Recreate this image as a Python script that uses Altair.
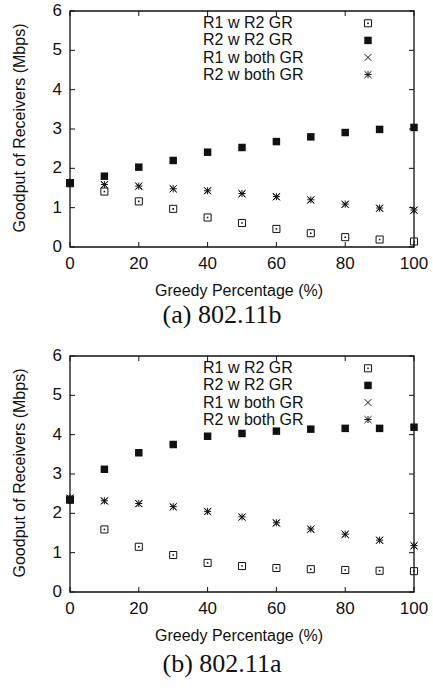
import altair as alt
import pandas as pd

# Greedy percentage (x axis)
greedy = [0, 10, 20, 30, 40, 50, 60, 70, 80, 90, 100]

series_names = ["R1 w R2 GR", "R2 w R2 GR", "R1 w both GR", "R2 w both GR"]

# (a) 802.11b goodput (Mbps)
a_r1_r2gr = [1.62, 1.41, 1.16, 0.97, 0.75, 0.61, 0.46, 0.35, 0.25, 0.19, 0.14]
a_r2_r2gr = [1.63, 1.80, 2.03, 2.20, 2.41, 2.53, 2.68, 2.80, 2.91, 2.99, 3.04]
a_r1_both = [1.62, 1.58, 1.54, 1.48, 1.43, 1.35, 1.27, 1.19, 1.08, 0.98, 0.93]
a_r2_both = [1.63, 1.59, 1.55, 1.48, 1.43, 1.36, 1.28, 1.20, 1.09, 0.99, 0.94]

# (b) 802.11a goodput (Mbps)
b_r1_r2gr = [2.35, 1.59, 1.15, 0.94, 0.74, 0.66, 0.61, 0.58, 0.56, 0.54, 0.53]
b_r2_r2gr = [2.34, 3.12, 3.54, 3.75, 3.96, 4.03, 4.09, 4.14, 4.16, 4.16, 4.19]
b_r1_both = [2.38, 2.31, 2.24, 2.16, 2.04, 1.90, 1.75, 1.59, 1.46, 1.31, 1.17]
b_r2_both = [2.39, 2.32, 2.25, 2.17, 2.05, 1.91, 1.76, 1.60, 1.47, 1.32, 1.18]

x_ticks = [0, 20, 40, 60, 80, 100]
y_ticks = [0, 1, 2, 3, 4, 5, 6]
x_title = "Greedy Percentage (%)"
y_title = "Goodput of Receivers (Mbps)"

# Each panel is one 433-wide group; the data rectangle sits inside it.
PANEL_W = 433
LEFT, RIGHT, TOP, BOTTOM = 70, 414, 11, 247
TICK_LEN = 5

SANS = "Liberation Sans"
SERIF = "Liberation Serif"
INK = "#111111"
FRAME = "#111111"

X_PATH = "M-1,-1L1,1M-1,1L1,-1"
STAR_PATH = "M-1,0L1,0M0,-1L0,1M-1,-1L1,1M-1,1L1,-1"

xscale = alt.Scale(domain=[0, 100], range=[LEFT, RIGHT], nice=False)
yscale = alt.Scale(domain=[0, 6], range=[BOTTOM, TOP], nice=False, zero=True)


def X(field):
    return alt.X(f"{field}:Q", scale=xscale, axis=None)


def Y(field):
    return alt.Y(f"{field}:Q", scale=yscale, axis=None)


MARKS = {
    "open": dict(shape="square", filled=False, stroke=INK, strokeWidth=1, size=50, opacity=1),
    "dot": dict(shape="square", filled=True, color=INK, size=2.5, strokeWidth=0, opacity=1),
    "filled": dict(shape="square", filled=True, color=INK, size=56, strokeWidth=0, opacity=1),
    "cross": dict(shape=X_PATH, filled=False, stroke=INK, strokeWidth=1, size=44, opacity=1),
    "star": dict(shape=STAR_PATH, filled=False, stroke=INK, strokeWidth=1, size=50, opacity=1),
}


def text_layer(value, **kw):
    enc = {k: kw.pop(k) for k in ("x", "y")}
    style = dict(font=SANS, fontSize=16, color=INK, baseline="middle", align="center")
    style.update(kw)
    return alt.Chart(pd.DataFrame({"t": [value]})).mark_text(**style).encode(text="t:N", **enc)


def legend_rows():
    layers = []
    kinds = [["open", "dot"], ["filled"], ["cross"], ["star"]]
    for i, (name, ks) in enumerate(zip(series_names, kinds)):
        ypos = TOP + 12.3 + 17.1 * i
        layers.append(text_layer(name, x=alt.value(203), y=alt.value(ypos), align="left"))
        for k in ks:
            layers.append(
                alt.Chart(pd.DataFrame({"label": [name]})).mark_point(**MARKS[k])
                .encode(x=alt.value(368), y=alt.value(ypos))
            )
    return layers


def frame_layers():
    """Box around the data rectangle, inward ticks on all four sides, tick labels and titles."""
    xt = pd.DataFrame({"t": x_ticks, "label": [str(t) for t in x_ticks]})
    yt = pd.DataFrame({"t": y_ticks, "label": [str(t) for t in y_ticks]})
    box = alt.Chart(pd.DataFrame({"k": [0]})).mark_rect(
        fillOpacity=0, stroke=FRAME, strokeWidth=1.3
    ).encode(x=alt.value(LEFT), x2=alt.value(RIGHT), y=alt.value(TOP), y2=alt.value(BOTTOM))
    rule = dict(color=FRAME, strokeWidth=1)
    bottom = alt.Chart(xt).mark_rule(**rule).encode(
        x=X("t"), y=alt.value(BOTTOM), y2=alt.value(BOTTOM - TICK_LEN))
    top = alt.Chart(xt).mark_rule(**rule).encode(
        x=X("t"), y=alt.value(TOP), y2=alt.value(TOP + TICK_LEN))
    left = alt.Chart(yt).mark_rule(**rule).encode(
        y=Y("t"), x=alt.value(LEFT), x2=alt.value(LEFT + TICK_LEN))
    right = alt.Chart(yt).mark_rule(**rule).encode(
        y=Y("t"), x=alt.value(RIGHT), x2=alt.value(RIGHT - TICK_LEN))

    xlab = alt.Chart(xt).mark_text(align="center", baseline="top", font=SANS,
                                   fontSize=17, color=INK).encode(
        x=X("t"), y=alt.value(BOTTOM + 9), text="label:N")
    ylab = alt.Chart(yt).mark_text(align="right", baseline="middle", font=SANS,
                                   fontSize=17, color=INK).encode(
        y=Y("t"), x=alt.value(LEFT - 8), text="label:N")
    xtitle = text_layer(x_title, x=alt.value(239), y=alt.value(291))
    ytitle = text_layer(y_title, x=alt.value(20), y=alt.value(128), angle=270)
    return [box, bottom, top, left, right, xlab, ylab, xtitle, ytitle]


def panel(r1_r2gr, r2_r2gr, r1_both, r2_both, caption, caption_y, height):
    def pts(values, kind):
        return alt.Chart(pd.DataFrame({"x": greedy, "v": values})).mark_point(
            **MARKS[kind]).encode(x=X("x"), y=Y("v"))

    layers = [
        pts(r1_r2gr, "open"),
        pts(r1_r2gr, "dot"),
        pts(r2_r2gr, "filled"),
        pts(r1_both, "cross"),
        pts(r2_both, "star"),
    ] + frame_layers() + legend_rows() + [
        text_layer(caption, x=alt.value(222), y=alt.value(caption_y),
                   font=SERIF, fontSize=26),
    ]

    return alt.layer(*layers).properties(width=PANEL_W, height=height)


chart = (
    alt.vconcat(
        panel(a_r1_r2gr, a_r2_r2gr, a_r1_both, a_r2_both, "(a) 802.11b", 315, 345),
        panel(b_r1_r2gr, b_r2_r2gr, b_r1_both, b_r2_both, "(b) 802.11a", 319, 343),
        spacing=0,
        bounds="flush",
    )
    .properties(padding=0, background="white")
    .configure_view(stroke=None)
)

chart.save("out.html", embed_options={"renderer": "svg", "actions": False})
